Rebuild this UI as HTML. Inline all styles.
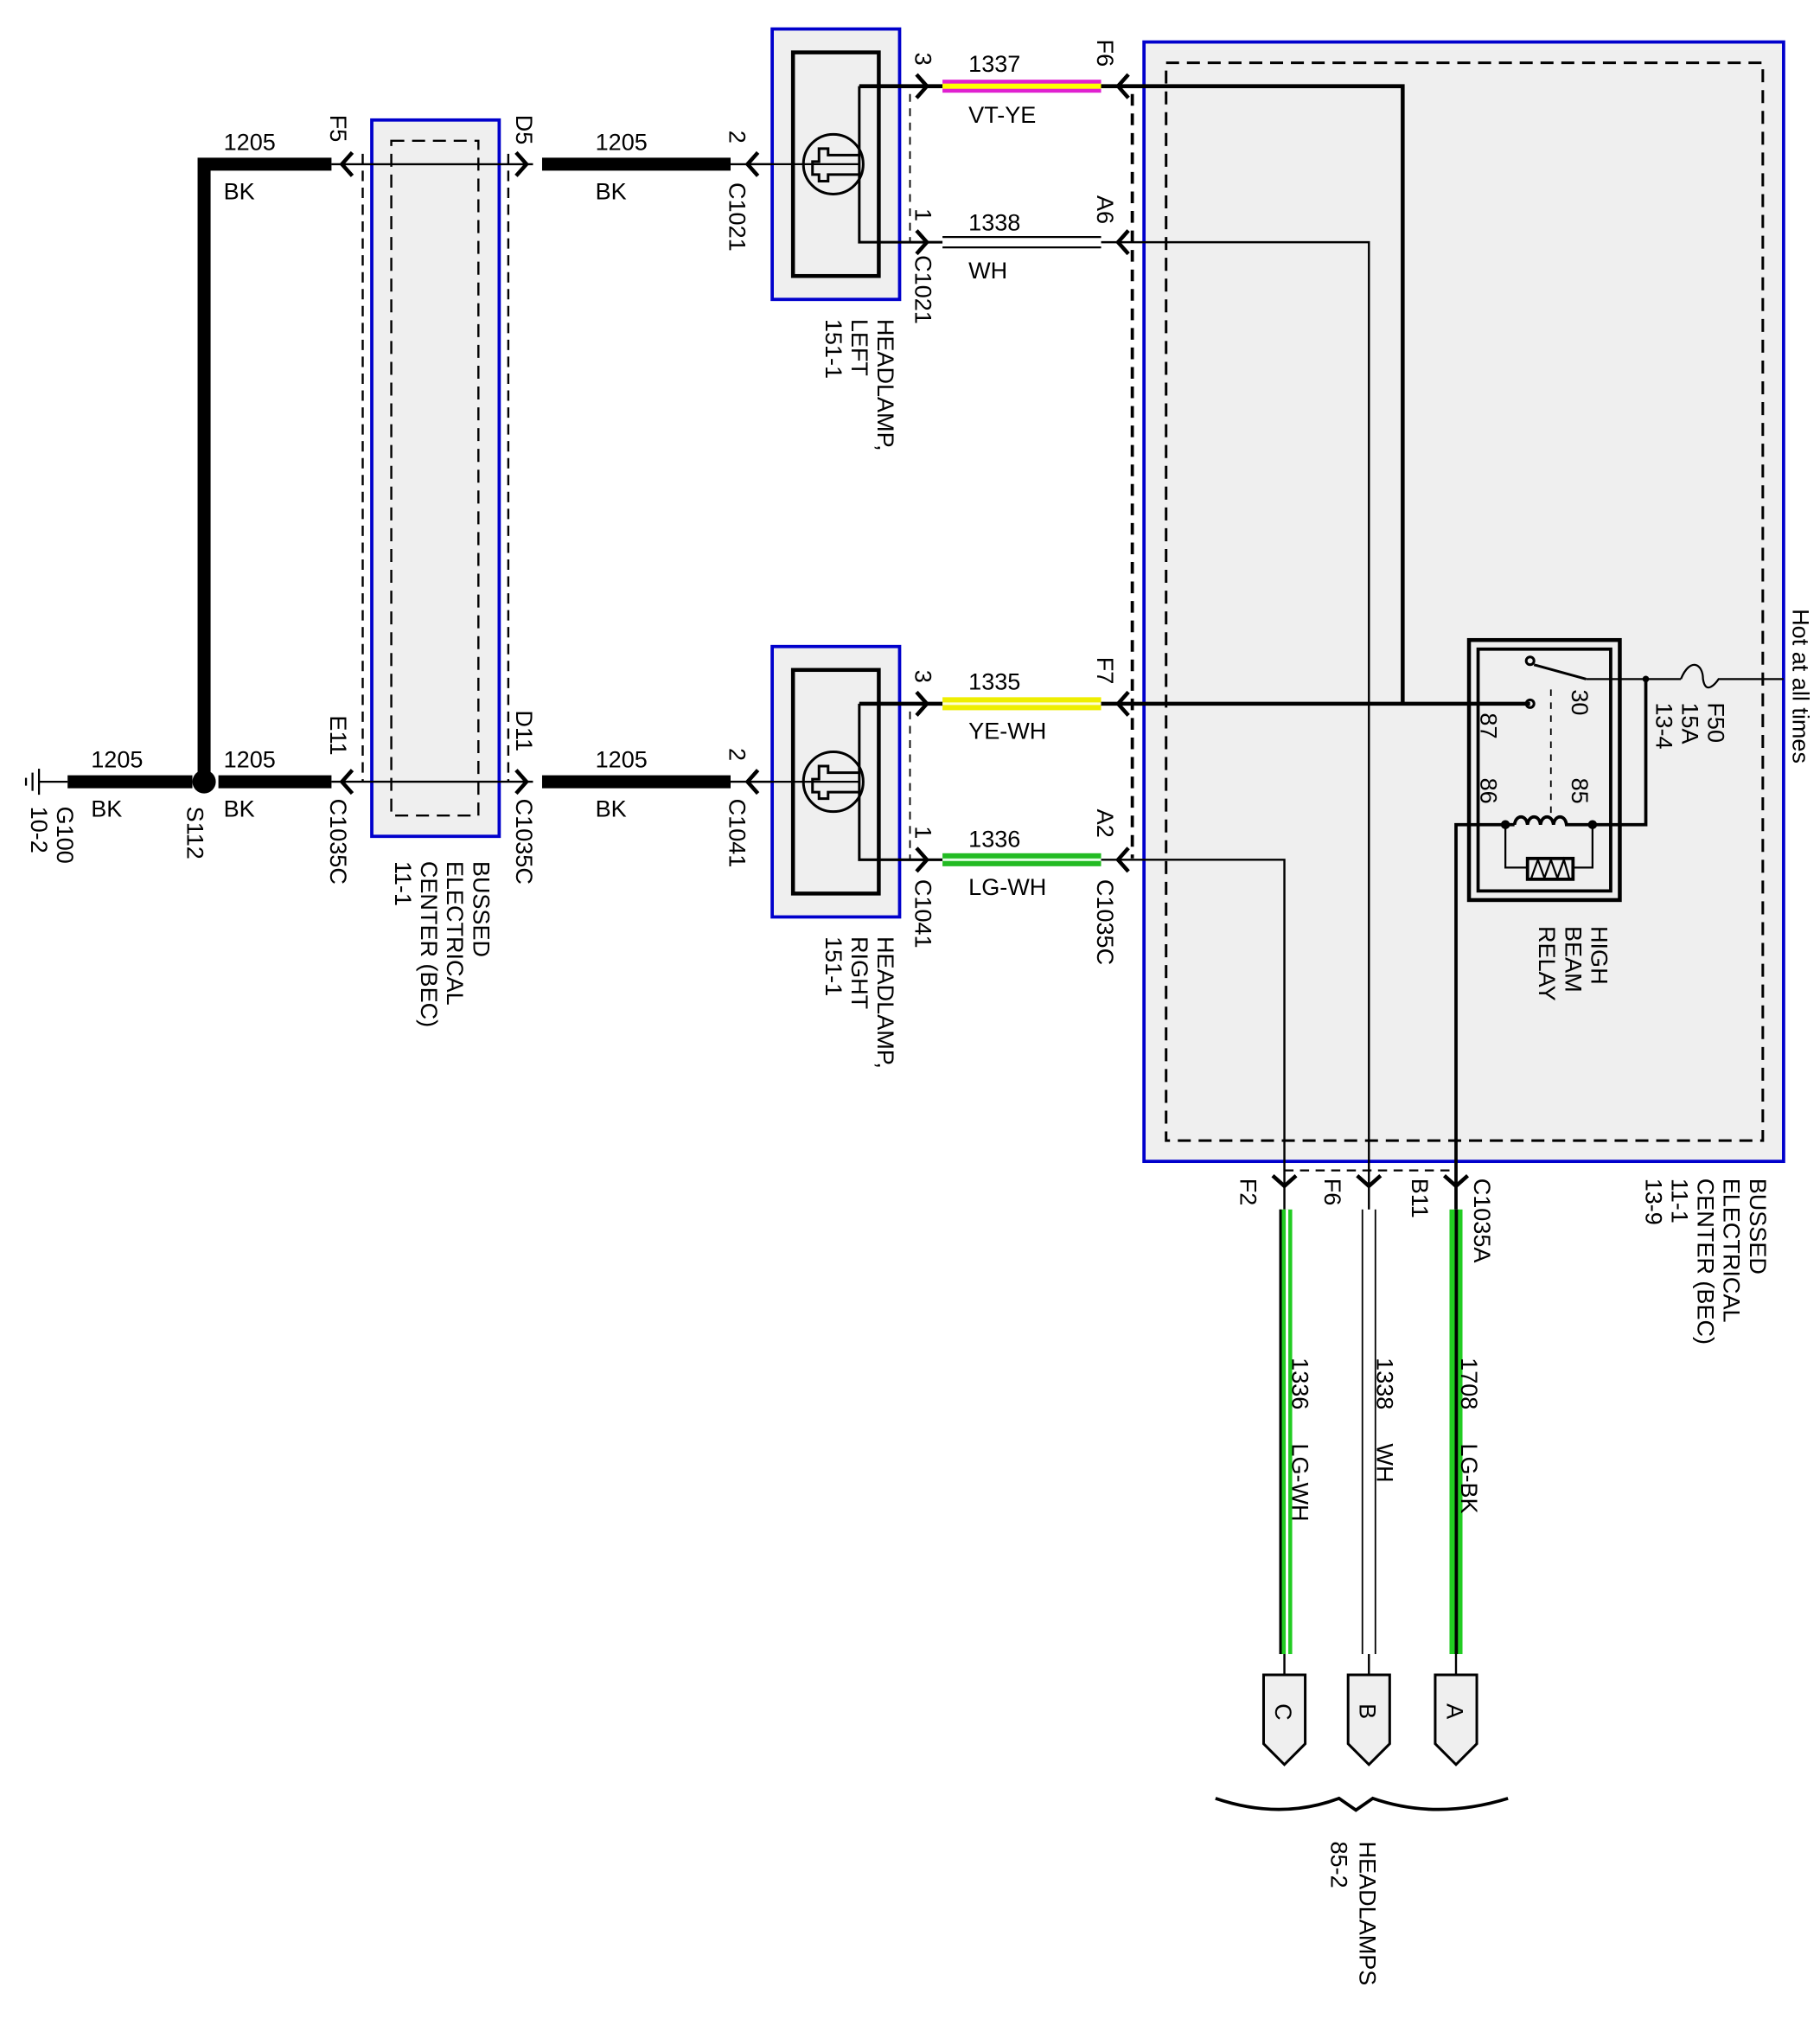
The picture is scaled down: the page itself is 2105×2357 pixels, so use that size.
<!DOCTYPE html>
<html><head><meta charset="utf-8"><style>
html,body{margin:0;padding:0;background:#fff}
svg{display:block}
text{font-family:"Liberation Sans",Arial,sans-serif;font-size:18px;fill:#000}
</style></head><body>
<svg width="2105" height="2357" viewBox="0 0 1400 1567" xmlns="http://www.w3.org/2000/svg">
<rect width="1400" height="1567" fill="#fff"/>

<rect x="880" y="32" width="492" height="861" fill="#efefef" stroke="#0000cc" stroke-width="2.5"/>
<rect x="897" y="48" width="459" height="829" fill="none" stroke="#000" stroke-width="2" stroke-dasharray="10,6"/>
<rect x="286" y="92" width="98" height="551" fill="#efefef" stroke="#0000cc" stroke-width="2.5"/>
<rect x="301" y="108" width="67" height="519" fill="none" stroke="#000" stroke-width="1.6" stroke-dasharray="10,6"/>
<line x1="279" y1="118" x2="279" y2="601" stroke="#000" stroke-width="1.6" stroke-dasharray="8,5"/>
<line x1="391" y1="118" x2="391" y2="601" stroke="#000" stroke-width="1.6" stroke-dasharray="8,5"/>

<g id="hl">
<rect x="594" y="22" width="98" height="208" fill="#efefef" stroke="#0000cc" stroke-width="2.5"/>
<rect x="610" y="40" width="66" height="172" fill="none" stroke="#000" stroke-width="3"/>
<circle cx="641" cy="126" r="23" fill="none" stroke="#000" stroke-width="2"/>
<path d="M661 66 H700 M661 66 V186 H700" fill="none" stroke="#000" stroke-width="2"/>
<line x1="661" y1="66" x2="700" y2="66" stroke="#000" stroke-width="3"/>
<path d="M661 119 H637 V114 H630 V124 H625 V134 H630 V139 H637 V134 H661" fill="none" stroke="#000" stroke-width="2"/>
<line x1="575" y1="126" x2="661" y2="126" stroke="#000" stroke-width="1.5"/>
<line x1="700" y1="72" x2="700" y2="186" stroke="#000" stroke-width="1.2" stroke-dasharray="6,5"/>
</g>
<use href="#hl" transform="translate(0,475)"/>

<line x1="871" y1="72" x2="871" y2="660" stroke="#000" stroke-width="2.5" stroke-dasharray="9,6"/>

<g stroke="#000" fill="none">
<line x1="30" y1="601" x2="52" y2="601" stroke-width="1.5"/>
<line x1="30" y1="591" x2="30" y2="611" stroke-width="1.5"/>
<line x1="25" y1="594" x2="25" y2="608" stroke-width="1.5"/>
<line x1="20" y1="598" x2="20" y2="604" stroke-width="1.5"/>
<line x1="52" y1="601" x2="148" y2="601" stroke-width="10"/>
<line x1="168" y1="601" x2="255" y2="601" stroke-width="10"/>
<path d="M157 595 V126 H255" stroke-width="10"/>
<line x1="255" y1="126" x2="410" y2="126" stroke-width="1.6"/>
<line x1="255" y1="601" x2="410" y2="601" stroke-width="1.6"/>
<line x1="417" y1="126" x2="562" y2="126" stroke-width="10"/>
<line x1="417" y1="601" x2="562" y2="601" stroke-width="10"/>
<line x1="562" y1="126" x2="594" y2="126" stroke-width="1.6"/>
<line x1="562" y1="601" x2="594" y2="601" stroke-width="1.6"/>
</g>
<circle cx="157" cy="601" r="9" fill="#000"/>

<g stroke="#000" stroke-width="3" fill="none">
<path d="M271 117 L263 126 L271 135"/><path d="M397 117 L405 126 L397 135"/>
<path d="M271 592 L263 601 L271 610"/><path d="M397 592 L405 601 L397 610"/>
<path d="M583 117 L575 126 L583 135"/><path d="M583 592 L575 601 L583 610"/>
<path d="M705 57 L713 66 L705 75"/><path d="M705 177 L713 186 L705 195"/>
<path d="M705 532 L713 541 L705 550"/><path d="M705 652 L713 661 L705 670"/>
<path d="M868 57 L860 66 L868 75"/><path d="M868 177 L860 186 L868 195"/>
<path d="M868 532 L860 541 L868 550"/><path d="M868 652 L860 661 L868 670"/>
<path d="M979 904 L988 912 L997 904"/><path d="M1044 904 L1053 912 L1062 904"/><path d="M1111 904 L1120 912 L1129 904"/>
</g>
<g stroke="#000" stroke-width="2">
<line x1="700" y1="66" x2="725" y2="66" stroke-width="3"/>
<line x1="700" y1="186" x2="725" y2="186"/>
<line x1="700" y1="541" x2="725" y2="541" stroke-width="3"/>
<line x1="700" y1="661" x2="725" y2="661"/>
</g>

<rect x="725" y="61" width="122" height="10" fill="#e020d0"/><rect x="725" y="64" width="122" height="4" fill="#ffff00"/>
<line x1="725" y1="182" x2="847" y2="182" stroke="#000" stroke-width="1.5"/><line x1="725" y1="190" x2="847" y2="190" stroke="#000" stroke-width="1.5"/>
<rect x="725" y="536" width="122" height="10" fill="#eeee00"/><rect x="725" y="540" width="122" height="2" fill="#ffffd0"/>
<rect x="725" y="656" width="122" height="10" fill="#22bb22"/><rect x="725" y="660" width="122" height="2" fill="#e0ffe0"/>

<g stroke="#000" fill="none">
<path d="M847 66 H1079 V541" stroke-width="3"/>
<line x1="847" y1="541" x2="1177" y2="541" stroke-width="3"/>
<path d="M847 186 H1053 V930" stroke-width="1.6"/>
<path d="M847 661 H988 V930" stroke-width="1.6"/>
<path d="M1158 634 H1120 V930" stroke-width="2.5"/>
<line x1="988" y1="900" x2="1120" y2="900" stroke-width="1.5" stroke-dasharray="7,5"/>
</g>

<rect x="1130" y="492" width="116" height="200" fill="none" stroke="#000" stroke-width="3"/>
<rect x="1137" y="499" width="102" height="186" fill="none" stroke="#000" stroke-width="2.5"/>
<g stroke="#000" fill="none">
<circle cx="1177" cy="508" r="3" stroke-width="2"/>
<circle cx="1177" cy="541" r="3" stroke-width="2"/>
<line x1="1180" y1="511" x2="1220" y2="522" stroke-width="2"/>
<path d="M1220 522 H1293" stroke-width="1.5"/>
<path d="M1293 522 C1300 505 1310 510 1310 522 C1312 535 1320 525 1322 522 H1372" stroke-width="1.5"/>
<path d="M1266 522 V634 H1225" stroke-width="2.5"/>
<line x1="1193" y1="530" x2="1193" y2="626" stroke-width="1.2" stroke-dasharray="5,5"/>
<path d="M1158 634 H1165 M1165 634 c1 -8 9 -8 10 0 c1 -8 9 -8 10 0 c1 -8 9 -8 10 0 c1 -8 9 -8 10 0 H1225" stroke-width="2.5"/>
<path d="M1158 634 V667 H1175 M1225 634 V667 H1210" stroke-width="1.5"/>
<rect x="1175" y="660" width="35" height="16" stroke-width="2.5"/>
<path d="M1178 675 L1183 661 L1188 675 L1193 661 L1198 675 L1203 661 L1207 675" stroke-width="1.5"/>
</g>
<circle cx="1158" cy="634" r="3.5" fill="#000"/><circle cx="1225" cy="634" r="3.5" fill="#000"/><circle cx="1266" cy="522" r="2.5" fill="#000"/>

<rect x="984" y="930" width="10" height="342" fill="#22cc22"/><rect x="984" y="930" width="2" height="342" fill="#000"/><rect x="989" y="930" width="2" height="342" fill="#fff"/>
<line x1="1048" y1="930" x2="1048" y2="1272" stroke="#000" stroke-width="1.2"/><line x1="1058" y1="930" x2="1058" y2="1272" stroke="#000" stroke-width="1.2"/>
<rect x="1115" y="930" width="10" height="342" fill="#22cc22"/><rect x="1119" y="930" width="2.5" height="342" fill="#000"/>
<g stroke="#000" stroke-width="1.6"><line x1="988" y1="1272" x2="988" y2="1288"/><line x1="1053" y1="1272" x2="1053" y2="1288"/><line x1="1120" y1="1272" x2="1120" y2="1288"/></g>
<g fill="#efefef" stroke="#000" stroke-width="2">
<path d="M972 1288 H1004 V1341 L988 1357 L972 1341 Z"/>
<path d="M1037 1288 H1069 V1341 L1053 1357 L1037 1341 Z"/>
<path d="M1104 1288 H1136 V1341 L1120 1357 L1104 1341 Z"/>
</g>
<path d="M935 1383 Q985 1400 1030 1383 L1043 1392 L1056 1383 Q1105 1400 1160 1383" fill="none" stroke="#000" stroke-width="2.5"/>

<text x="70" y="590">1205</text><text x="70" y="628">BK</text>
<text x="172" y="590">1205</text><text x="172" y="628">BK</text>
<text x="172" y="115">1205</text><text x="172" y="153">BK</text>
<text x="458" y="115">1205</text><text x="458" y="153">BK</text>
<text x="458" y="590">1205</text><text x="458" y="628">BK</text>
<text x="745" y="55">1337</text><text x="745" y="94">VT-YE</text>
<text x="745" y="177">1338</text><text x="745" y="214">WH</text>
<text x="745" y="530">1335</text><text x="745" y="568">YE-WH</text>
<text x="745" y="651">1336</text><text x="745" y="688">LG-WH</text>

<g>
<text transform="translate(24,620) rotate(90)">10-2</text>
<text transform="translate(44,620) rotate(90)">G100</text>
<text transform="translate(144,620) rotate(90)">S112</text>
<text transform="translate(254,88) rotate(90)">F5</text>
<text transform="translate(254,550) rotate(90)">E11</text>
<text transform="translate(254,614) rotate(90)">C1035C</text>
<text transform="translate(397,88) rotate(90)">D5</text>
<text transform="translate(397,546) rotate(90)">D11</text>
<text transform="translate(397,614) rotate(90)">C1035C</text>
<text transform="translate(304,662) rotate(90)">11-1</text>
<text transform="translate(324,662) rotate(90)">CENTER (BEC)</text>
<text transform="translate(344,662) rotate(90)">ELECTRICAL</text>
<text transform="translate(364,662) rotate(90)">BUSSED</text>
<text transform="translate(561,100) rotate(90)">2</text>
<text transform="translate(561,140) rotate(90)">C1021</text>
<text transform="translate(561,575) rotate(90)">2</text>
<text transform="translate(561,614) rotate(90)">C1041</text>
<text transform="translate(704,40) rotate(90)">3</text>
<text transform="translate(704,160) rotate(90)">1</text>
<text transform="translate(704,196) rotate(90)">C1021</text>
<text transform="translate(704,515) rotate(90)">3</text>
<text transform="translate(704,635) rotate(90)">1</text>
<text transform="translate(704,676) rotate(90)">C1041</text>
<text transform="translate(635,245) rotate(90)">151-1</text>
<text transform="translate(655,245) rotate(90)">LEFT</text>
<text transform="translate(675,245) rotate(90)">HEADLAMP,</text>
<text transform="translate(635,720) rotate(90)">151-1</text>
<text transform="translate(655,720) rotate(90)">RIGHT</text>
<text transform="translate(675,720) rotate(90)">HEADLAMP,</text>
<text transform="translate(844,30) rotate(90)">F6</text>
<text transform="translate(844,150) rotate(90)">A6</text>
<text transform="translate(844,505) rotate(90)">F7</text>
<text transform="translate(844,622) rotate(90)">A2</text>
<text transform="translate(844,676) rotate(90)">C1035C</text>
<text transform="translate(1139,548) rotate(90)">87</text>
<text transform="translate(1139,598) rotate(90)">86</text>
<text transform="translate(1209,530) rotate(90)">30</text>
<text transform="translate(1209,598) rotate(90)">85</text>
<text transform="translate(1274,540) rotate(90)">13-4</text>
<text transform="translate(1294,540) rotate(90)">15A</text>
<text transform="translate(1314,540) rotate(90)">F50</text>
<text transform="translate(1379,468) rotate(90)">Hot at all times</text>
<text transform="translate(1184,712) rotate(90)">RELAY</text>
<text transform="translate(1204,712) rotate(90)">BEAM</text>
<text transform="translate(1224,712) rotate(90)">HIGH</text>
<text transform="translate(954,906) rotate(90)">F2</text>
<text transform="translate(1019,906) rotate(90)">F6</text>
<text transform="translate(1086,906) rotate(90)">B11</text>
<text transform="translate(1134,906) rotate(90)">C1035A</text>
<text transform="translate(1266,906) rotate(90)">13-9</text>
<text transform="translate(1286,906) rotate(90)">11-1</text>
<text transform="translate(1306,906) rotate(90)">CENTER (BEC)</text>
<text transform="translate(1326,906) rotate(90)">ELECTRICAL</text>
<text transform="translate(1346,906) rotate(90)">BUSSED</text>
<text transform="translate(994,1044) rotate(90)">1336</text>
<text transform="translate(994,1110) rotate(90)">LG-WH</text>
<text transform="translate(1059,1044) rotate(90)">1338</text>
<text transform="translate(1059,1110) rotate(90)">WH</text>
<text transform="translate(1124,1044) rotate(90)">1708</text>
<text transform="translate(1124,1110) rotate(90)">LG-BK</text>
<text transform="translate(981,1310) rotate(90)">C</text>
<text transform="translate(1046,1310) rotate(90)">B</text>
<text transform="translate(1113,1310) rotate(90)">A</text>
<text transform="translate(1024,1416) rotate(90)">85-2</text>
<text transform="translate(1046,1416) rotate(90)">HEADLAMPS</text>
</g>
</svg>
</body></html>
